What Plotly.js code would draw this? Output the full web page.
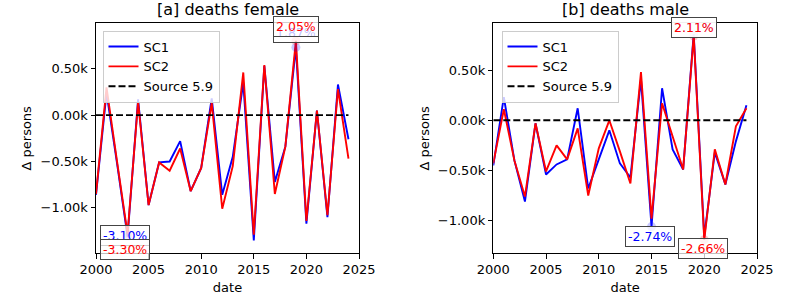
<!DOCTYPE html>
<html>
<head>
<meta charset="utf-8">
<script src="https://cdn.plot.ly/plotly-3.0.1.min.js"></script>
<style>html,body{margin:0;padding:0;background:#fff;}#chart{width:797px;height:299px;}</style>
</head>
<body>
<div id="chart"></div>
<script>
// ---- data (values in thousand persons) ----
const years = [2000,2001,2002,2003,2004,2005,2006,2007,2008,2009,2010,2011,2012,2013,2014,2015,2016,2017,2018,2019,2020,2021,2022,2023,2024];

const femaleSC1 = [-0.86,0.24,-0.52,-1.31,0.17,-0.97,-0.51,-0.50,-0.28,-0.82,-0.57,0.18,-0.86,-0.45,0.35,-1.35,0.53,-0.72,-0.34,0.73,-1.17,0.05,-1.10,0.33,-0.26];
const femaleSC2 = [-0.85,0.30,-0.50,-1.28,0.14,-0.97,-0.51,-0.60,-0.36,-0.82,-0.57,0.13,-1.01,-0.55,0.46,-1.29,0.54,-0.85,-0.34,0.80,-1.14,0.05,-1.08,0.28,-0.47];
const femaleSource = [0,0,0,0,0,0,0,0,0,0,0,0,0,0,0,0,0,0,0,0,0,0,0,0,0];

const maleSC1 = [-0.45,0.23,-0.40,-0.81,-0.03,-0.54,-0.44,-0.39,0.12,-0.68,-0.39,-0.10,-0.43,-0.57,0.41,-1.06,0.32,-0.29,-0.49,0.86,-1.16,-0.32,-0.64,-0.21,0.15];
const maleSC2 = [-0.43,0.11,-0.40,-0.76,-0.03,-0.51,-0.25,-0.39,-0.08,-0.75,-0.28,0.00,-0.31,-0.63,0.48,-0.98,0.17,-0.16,-0.49,0.84,-1.19,-0.29,-0.64,-0.06,0.12];
const maleSource = [0,0,0,0,0,0,0,0,0,0,0,0,0,0,0,0,0,0,0,0,0,0,0,0,0];

// annotated extremes (relative change in %): [year, label]
const femaleSC1Max = [2019, '1.87%'];
const femaleSC1Min = [2003, '-3.10%'];
const femaleSC2Max = [2019, '2.05%'];
const femaleSC2Min = [2003, '-3.30%'];
const maleSC1Max = [2019, '2.11%'];
const maleSC1Min = [2015, '-2.74%'];
const maleSC2Max = [2019, '2.11%'];
const maleSC2Min = [2020, '-2.66%'];

const seriesNames = ['SC1', 'SC2', 'Source 5.9'];
const panelTitles = ['[a] deaths female', '[b] deaths male'];

// ---- styling ----
const BLUE = '#0000ff', RED = '#ff0000';
const FONT = 'DejaVu Sans, sans-serif';
const W = 797, H = 299;
const valAt = (arr, yr) => arr[years.indexOf(yr)];

function panelTraces(sc1, sc2, src, xa, ya, leg, ext) {
  const t = [];
  t.push({x: years, y: sc1, type: 'scatter', mode: 'lines', name: seriesNames[0],
    line: {color: BLUE, width: 1.9}, xaxis: xa, yaxis: ya, legend: leg});
  t.push({x: years, y: sc2, type: 'scatter', mode: 'lines', name: seriesNames[1],
    line: {color: RED, width: 1.9}, xaxis: xa, yaxis: ya, legend: leg});
  t.push({x: years, y: src, type: 'scatter', mode: 'lines', name: seriesNames[2],
    line: {color: '#000', width: 1.9, dash: '7px,3px'}, xaxis: xa, yaxis: ya, legend: leg});
  // translucent highlight markers at annotated points
  const b = [ext[0][0], ext[1][0]], r = [ext[2][0], ext[3][0]];
  t.push({x: b, y: b.map(yr => valAt(sc1, yr)), type: 'scatter', mode: 'markers', showlegend: false,
    marker: {color: BLUE, size: 9, opacity: 0.22}, xaxis: xa, yaxis: ya, hoverinfo: 'skip'});
  t.push({x: r, y: r.map(yr => valAt(sc2, yr)), type: 'scatter', mode: 'markers', showlegend: false,
    marker: {color: RED, size: 9, opacity: 0.22}, xaxis: xa, yaxis: ya, hoverinfo: 'skip'});
  return t;
}

const data = [].concat(
  panelTraces(femaleSC1, femaleSC2, femaleSource, 'x', 'y', 'legend',
    [femaleSC1Max, femaleSC1Min, femaleSC2Max, femaleSC2Min]),
  panelTraces(maleSC1, maleSC2, maleSource, 'x2', 'y2', 'legend2',
    [maleSC1Max, maleSC1Min, maleSC2Max, maleSC2Min])
);

function ann(xr, yr, arr, ext, color, xs, ys) {
  return {x: ext[0], y: valAt(arr, ext[0]), xref: xr, yref: yr, text: ext[1], showarrow: false,
    xshift: xs, yshift: ys, font: {family: FONT, size: 12.5, color: color},
    bgcolor: 'rgba(255,255,255,0.75)', bordercolor: '#444', borderwidth: 1, borderpad: 2};
}

const annotations = [
  ann('x', 'y', femaleSC1, femaleSC1Max, BLUE, 0, 15),
  ann('x', 'y', femaleSC1, femaleSC1Min, BLUE, -2.5, 1.5),
  ann('x', 'y', femaleSC2, femaleSC2Max, RED, 0, 14.5),
  ann('x', 'y', femaleSC2, femaleSC2Min, RED, -2.5, -15.5),
  ann('x2', 'y2', maleSC1, maleSC1Max, BLUE, 0, 7),
  ann('x2', 'y2', maleSC1, maleSC1Min, BLUE, -1.5, -10.3),
  ann('x2', 'y2', maleSC2, maleSC2Max, RED, 0, 9),
  ann('x2', 'y2', maleSC2, maleSC2Min, RED, -1, -8.6),
  {text: panelTitles[0], xref: 'paper', yref: 'paper', x: (96 + 359) / 2 / W, y: (H - 9.5) / H,
    xanchor: 'center', yanchor: 'middle', showarrow: false, font: {family: FONT, size: 16, color: '#000'}},
  {text: panelTitles[1], xref: 'paper', yref: 'paper', x: (493.3 + 757) / 2 / W, y: (H - 9.5) / H,
    xanchor: 'center', yanchor: 'middle', showarrow: false, font: {family: FONT, size: 16, color: '#000'}}
];

const yDom = [(H - 253.3) / H, (H - 23.3) / H];
function xAxis(dom, anchor) {
  return {domain: dom, anchor: anchor, range: [2000, 2025], tickmode: 'linear', tick0: 2000, dtick: 5,
    showgrid: false, zeroline: false, showline: true, mirror: true, linecolor: '#000', linewidth: 1,
    ticks: 'outside', ticklen: 4.5, tickwidth: 1, tickcolor: '#000',
    tickfont: {family: FONT, size: 13, color: '#000'},
    title: {text: 'date', font: {family: FONT, size: 13, color: '#000'}, standoff: 6}};
}
function yAxis(range, anchor) {
  return {domain: yDom, anchor: anchor, range: range, tickmode: 'linear', tick0: 0, dtick: 0.5,
    tickformat: '.2f', ticksuffix: 'k',
    showgrid: false, zeroline: false, showline: true, mirror: true, linecolor: '#000', linewidth: 1,
    ticks: 'outside', ticklen: 4.5, tickwidth: 1, tickcolor: '#000',
    tickfont: {family: FONT, size: 13, color: '#000'},
    title: {text: 'Δ persons', font: {family: FONT, size: 13, color: '#000'}, standoff: 5}};
}

const legendStyle = (x) => ({x: x, y: (H - 30.5) / H, xref: 'paper', yref: 'paper', xanchor: 'left', yanchor: 'top',
  bgcolor: 'rgba(255,255,255,0.8)', bordercolor: '#cccccc', borderwidth: 1,
  font: {family: FONT, size: 13, color: '#000'}, tracegroupgap: 0, traceorder: 'normal'});

const layout = {
  width: W, height: H, margin: {l: 0, r: 0, t: 0, b: 0},
  paper_bgcolor: '#fff', plot_bgcolor: '#fff', showlegend: true,
  font: {family: FONT, size: 13, color: '#000'},
  xaxis: xAxis([96 / W, 359 / W], 'y'),
  yaxis: yAxis([-1.49, 0.99], 'x'),
  xaxis2: xAxis([493.3 / W, 757 / W], 'y2'),
  yaxis2: yAxis([-1.326, 0.967], 'x2'),
  legend: legendStyle(102.5 / W),
  legend2: legendStyle(501.5 / W),
  annotations: annotations
};

Plotly.newPlot('chart', data, layout, {staticPlot: true, displayModeBar: false});
</script>
</body>
</html>
